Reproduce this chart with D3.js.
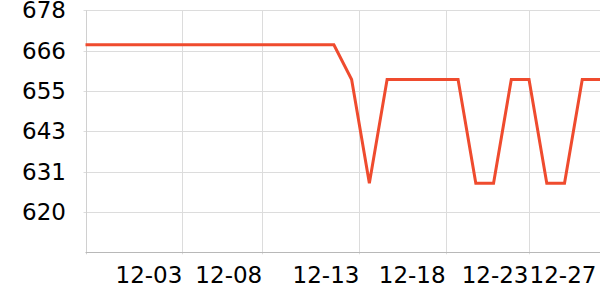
<!doctype html>
<html>
  <head>
    <script src="https://cdnjs.cloudflare.com/ajax/libs/d3/7.8.5/d3.min.js"></script>
    <style>
      body { margin: 0; background: #fff; }
      text { font-family: "DejaVu Sans", sans-serif; fill: #000; }
    </style>
  </head>
<body>
  <svg id="chart" width="600" height="300"></svg>
  <script>
    // categories (one per point) and the series
    var dates = ["11-28","11-29","11-30","12-01","12-02","12-03","12-04","12-05","12-06","12-07",
                 "12-08","12-09","12-10","12-11","12-12","12-13","12-14","12-15","12-16","12-17",
                 "12-18","12-19","12-20","12-21","12-22","12-23","12-24","12-25","12-26","12-27"];
    var values = [668,668,668,668,668,668,668,668,668,668,
                  668,668,668,668,668,658,628,658,658,658,
                  658,658,628,628,658,658,628,628,658,658];

    // axis
    var yMin = 608, yMax = 678;
    var yTickLabels = ["620","631","643","655","666","678"];
    var xTickLabels = ["12-03","12-08","12-13","12-18","12-23","12-27"];
    var xTickAt = [5.46, 9.96, 15.44, 20.3, 24.97, 28.8];   // position in category units

    var plotL = 85.5, plotR = 600, plotT = 10.3, plotB = 252.3;
    var svg = d3.select("#chart");

    var x = d3.scaleLinear().domain([0, dates.length - 1]).range([plotL, plotR]);
    var y = d3.scaleLinear().domain([yMin, yMax]).range([plotB, plotT]);
    var yTicks = yTickLabels.map((d, i) => yMin + (i + 1) * (yMax - yMin) / yTickLabels.length);

    // horizontal grid + y labels
    var yg = svg.append("g");
    yTicks.forEach((v, i) => {
      var py = Math.round(y(v)) + 0.5;
      yg.append("line").attr("x1", plotL - 2).attr("x2", plotR)
        .attr("y1", py).attr("y2", py)
        .style("stroke", "#dcdcdc").style("stroke-width", "1px");
      yg.append("text").attr("x", 66).attr("y", y(v))
        .attr("text-anchor", "end").attr("dominant-baseline", "central")
        .style("font-size", "23px").text(yTickLabels[i]);
    });

    // vertical grid + x labels
    var xg = svg.append("g");
    xTickAt.forEach((t, i) => {
      var px = Math.round(x(t)) + 0.5;
      if (px < plotR - 5) {
        xg.append("line").attr("x1", px).attr("x2", px)
          .attr("y1", plotT).attr("y2", plotB + 2)
          .style("stroke", "#dcdcdc").style("stroke-width", "1px");
      }
      xg.append("text").attr("x", x(t)).attr("y", 282.5)
        .attr("text-anchor", "end")
        .style("font-size", "23px").text(xTickLabels[i]);
    });

    // axis lines
    svg.append("line").attr("x1", Math.round(plotL) + 0.5).attr("x2", Math.round(plotL) + 0.5)
      .attr("y1", plotT).attr("y2", plotB + 2)
      .style("stroke", "#d0d0d0").style("stroke-width", "1px");
    svg.append("line").attr("x1", plotL).attr("x2", plotR)
      .attr("y1", Math.round(plotB) + 0.5).attr("y2", Math.round(plotB) + 0.5)
      .style("stroke", "#b8b8b8").style("stroke-width", "1px");

    // series
    var line = d3.line().x((d, i) => x(i)).y(d => y(d));
    svg.append("path").datum(values)
      .attr("d", line)
      .style("fill", "none")
      .style("stroke", "#ef4b2e")
      .style("stroke-width", "3px")
      .style("stroke-linejoin", "miter");
  </script>
</body>
</html>
